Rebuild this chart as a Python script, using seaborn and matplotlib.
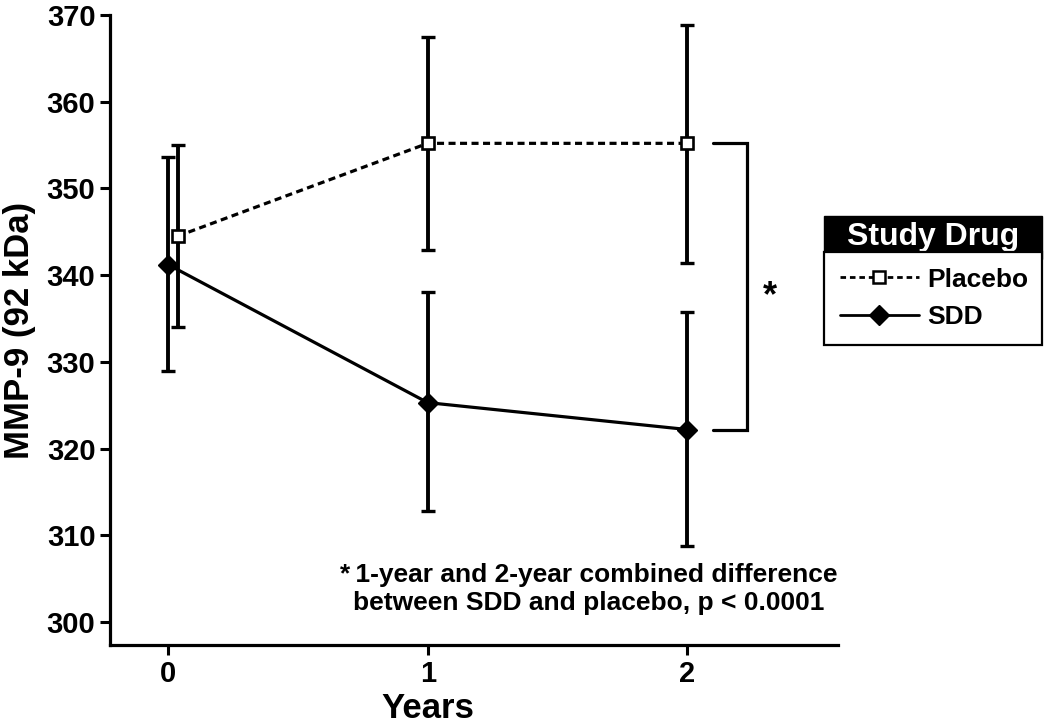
import matplotlib
matplotlib.use("Agg")
import matplotlib.pyplot as plt
from matplotlib.lines import Line2D
from matplotlib.patches import Rectangle
import seaborn as sns
import pandas as pd
import numpy as np

# ---- data ----
years = [0, 1, 2]
groups = ["Placebo", "SDD"]
placebo_mean = [344.5, 355.2, 355.2]
placebo_low = [334.0, 342.9, 341.4]
placebo_high = [355.0, 367.5, 368.9]
sdd_mean = [341.2, 325.3, 322.2]
sdd_low = [328.9, 312.8, 308.8]
sdd_high = [353.6, 338.1, 335.7]
x_dodge = {"Placebo": [0.036, 0, 0], "SDD": [0, 0, 0]}
yticks = [300, 310, 320, 330, 340, 350, 360, 370]
footnote = "*\u20091-year and 2-year combined difference\nbetween SDD and placebo, p < 0.0001"

sns.set_theme(style="ticks")
plt.rcParams["font.family"] = ["Liberation Sans", "DejaVu Sans"]
plt.rcParams["font.weight"] = "bold"
for k in ["text.color", "axes.labelcolor", "xtick.color", "ytick.color", "axes.edgecolor"]:
    plt.rcParams[k] = "black"

rows = []
for g, m, lo, hi in [("Placebo", placebo_mean, placebo_low, placebo_high),
                     ("SDD", sdd_mean, sdd_low, sdd_high)]:
    for i, yr in enumerate(years):
        rows.append({"group": g, "x": yr + x_dodge[g][i], "y": m[i], "lo": lo[i], "hi": hi[i]})
df = pd.DataFrame(rows)

fig = plt.figure(figsize=(10.5, 7.28), dpi=100)
ax = fig.add_axes([110/1050, 83/728, 728/1050, 630/728])

lw = 2.3
# error bars
for g in groups:
    d = df[df.group == g]
    ax.errorbar(d.x, d.y, yerr=[d.y - d.lo, d.hi - d.y], fmt="none", ecolor="black",
                elinewidth=2.8, capsize=4.8, capthick=2.4, zorder=2)

sns.lineplot(data=df, x="x", y="y", style="group", style_order=groups,
             dashes={"Placebo": (2.2, 1.4), "SDD": ""},
             markers={"Placebo": "s", "SDD": "D"}, color="black", linewidth=lw,
             legend=False, ax=ax, sort=False, zorder=3)
for ln in ax.lines:
    if ln.get_marker() == "s":
        ln.set_markerfacecolor("white"); ln.set_markeredgecolor("black")
        ln.set_markersize(8); ln.set_markeredgewidth(1.9)
    elif ln.get_marker() == "D":
        ln.set_markerfacecolor("black"); ln.set_markeredgecolor("black")
        ln.set_markersize(10); ln.set_markeredgewidth(1)

# significance bracket between year-2 means
bx0, bx1 = 2.10, 2.23
ax.plot([bx0, bx1, bx1, bx0], [placebo_mean[2], placebo_mean[2], sdd_mean[2], sdd_mean[2]],
        color="black", lw=2.3, solid_joinstyle="miter", zorder=2)
ax.text(2.32, (placebo_mean[2] + sdd_mean[2]) / 2 - 1.2, "*", fontsize=26, fontweight="bold",
        ha="center", va="center")

ax.text(1.62, 306.8, footnote, fontsize=19, fontweight="bold", ha="center", va="top",
        linespacing=1.2, multialignment="center")

ax.set_xlim(-0.225, 2.582)
ax.set_ylim(297.35, 370)
ax.set_xticks(years)
ax.set_yticks(yticks)
ax.tick_params(axis="both", labelsize=21, width=2.2, length=7, direction="out", colors="black")
for lab in ax.get_xticklabels() + ax.get_yticklabels():
    lab.set_fontweight("bold")
for s in ["top", "right"]:
    ax.spines[s].set_visible(False)
for s in ["left", "bottom"]:
    ax.spines[s].set_linewidth(2.3)
    ax.spines[s].set_color("black")
ax.set_xlabel("Years", fontsize=25, fontweight="bold")
ax.xaxis.set_label_coords((1 + 0.225) / 2.807, -0.075)
ax.set_ylabel("MMP-9 (92 kDa)", fontsize=25, fontweight="bold", labelpad=8)

# legend body
handles = [Line2D([], [], color="black", lw=2, dashes=(2.0, 1.4), marker="s", markersize=8,
                  markerfacecolor="white", markeredgecolor="black", markeredgewidth=1.8),
           Line2D([], [], color="black", lw=2, marker="D", markersize=10,
                  markerfacecolor="black", markeredgecolor="black")]
lx0, ltop, lw_, hh = 824/1050, (728-259)/728, 218/1050, 43/728
leg = fig.legend(handles, groups, loc="upper left", bbox_to_anchor=(lx0, ltop, lw_, 0.01),
                 mode="expand", borderaxespad=0, frameon=True, fancybox=False, framealpha=1,
                 prop={"size": 19, "weight": "bold"}, handlelength=3.0, handletextpad=0.3,
                 labelspacing=0.5, borderpad=0.6)
leg.get_frame().set_edgecolor("black")
leg.get_frame().set_linewidth(1.6)
fig.patches.append(Rectangle((lx0, ltop), lw_, hh, transform=fig.transFigure,
                             facecolor="black", edgecolor="black", figure=fig))
fig.text(lx0 + lw_/2, ltop + hh/2, "Study Drug", color="white", fontsize=23,
         fontweight="bold", ha="center", va="center")

fig.savefig("out.png", dpi=100)
